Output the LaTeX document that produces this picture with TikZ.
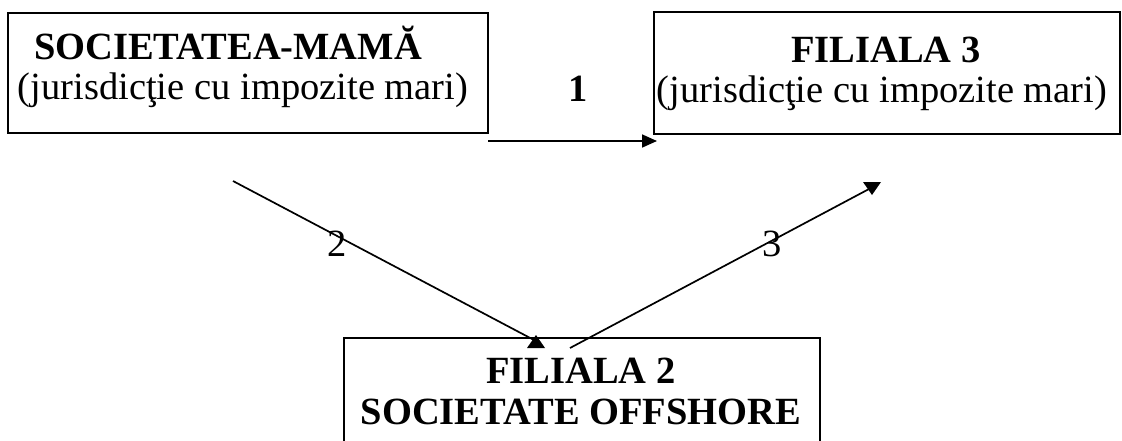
\documentclass[tikz,border=0pt]{standalone}
\usepackage{fontspec}
\setmainfont{Liberation Serif}
\usetikzlibrary{arrows.meta}
\begin{document}
\begin{tikzpicture}[x=1pt,y=-1pt,
  box/.style={draw,line width=2pt,rectangle,inner sep=0pt,outer sep=0pt},
  txt/.style={inner sep=0pt,outer sep=0pt,anchor=base,font=\fontsize{38.5}{42}\selectfont},
  lbl/.style={inner sep=0pt,outer sep=0pt,anchor=base,font=\fontsize{38.5}{42}\selectfont},
  conn/.style={line width=1.7pt},
  headfill/.style={fill=black}]
\useasboundingbox (0,0) rectangle (1122,440);
% boxes
\node[box,minimum width=480pt,minimum height=120pt] (mama) at (248,73) {};
\node[box,minimum width=466pt,minimum height=122pt] (fil3) at (887,73) {};
\node[box,minimum width=476pt,minimum height=140pt] (fil2) at (582,408) {};
% texts
\node[txt] (mamaA) at (228,59) {\bfseries SOCIETATEA-MAMĂ};
\node[txt] (mamaB) at (243,99) {(jurisdicţie cu impozite mari)};
\node[txt] (fil3A) at (886,62) {\bfseries FILIALA 3};
\node[txt] (fil3B) at (882,102) {(jurisdicţie cu impozite mari)};
\node[txt] (fil2A) at (581,383) {\bfseries FILIALA 2};
\node[txt] (fil2B) at (581,424) {\bfseries SOCIETATE OFFSHORE};
% connector labels
\node[lbl] (l1) at (578.5,101) {\bfseries 1};
\node[lbl] (l2) at (337,256) {2};
\node[lbl] (l3) at (772,256) {3};
% connector end points
\coordinate (a1s) at (488,141);
\coordinate (a1e) at (657,141);
\coordinate (a2s) at (233,181);
\coordinate (a2e) at (534,340);
\coordinate (a2h) at (536,335);
\coordinate (a3s) at (570,348);
\coordinate (a3e) at (869,189);
\coordinate (a3h) at (872,195);
% connectors
\draw[conn,-{Triangle[length=15pt,width=13pt]}] (a1s) -- (a1e);
\draw[conn] (a2s) -- (a2e);
\fill[headfill] (a2h) -- ++(-9,13) -- ++(18,0) -- cycle;
\draw[conn] (a3s) -- (a3e);
\fill[headfill] (a3h) -- ++(-9,-13) -- ++(18,0) -- cycle;
\end{tikzpicture}
\end{document}
